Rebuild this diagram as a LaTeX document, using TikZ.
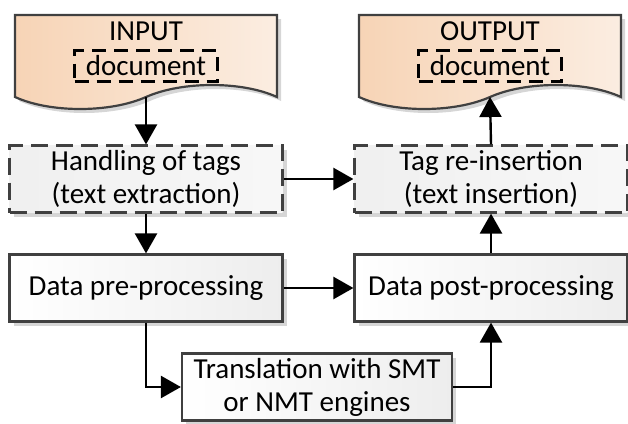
\documentclass[tikz,border=0pt]{standalone}
\usepackage{fontspec}
\setmainfont{Carlito}
\usetikzlibrary{arrows.meta,calc}
\definecolor{bordc}{HTML}{404040}
\definecolor{peachL}{HTML}{F7D4B6}
\definecolor{peachR}{HTML}{FBEDE1}
\tikzset{
  conn/.style={line width=2.4pt,-{Triangle[length=20pt,width=22pt]}},
  boxbase/.style={draw=bordc,line width=2.2pt,minimum width=273pt,minimum height=67pt,
     align=center,font=\fontsize{29}{33}\selectfont,inner sep=0pt},
  solidbox/.style={boxbase,left color=white,right color=black!7},
  dashbox/.style={boxbase,dash pattern=on 17pt off 8pt,left color=black!6,right color=black!3},
  shadowbox/.style={fill=black!16,draw=none,minimum width=273pt,minimum height=67pt,inner sep=0pt},
  docdash/.style={draw=black,line width=2.2pt,dash pattern=on 14pt off 8pt,inner sep=0pt,
     minimum width=143pt,minimum height=31pt,font=\fontsize{29}{33}\selectfont},
  doctitle/.style={font=\fontsize{29}{33}\selectfont,inner sep=0pt},
}
\begin{document}
\begin{tikzpicture}[x=1pt,y=-1pt]
\useasboundingbox (0,0) rectangle (628,423);
% ---------- documents
\foreach \ox in {0,344}{
  \fill[black!16,shift={(\ox+4,4)}] (15,15) -- (277,15) -- (277,97)
     .. controls (242,81) and (182,81) .. (146,97)
     .. controls (110,113) and (50,113) .. (15,97) -- cycle;
  \shade[left color=peachL,right color=peachR,draw=bordc,line width=2.2pt,shift={(\ox,0)}]
     (15,15) -- (277,15) -- (277,97)
     .. controls (242,81) and (182,81) .. (146,97)
     .. controls (110,113) and (50,113) .. (15,97) -- cycle;
}
\node[doctitle] (intitle) at (146,31) {INPUT};
\node[docdash] (indoc) at (146,66) {document};
\node[doctitle] (outtitle) at (490,31) {OUTPUT};
\node[docdash] (outdoc) at (490,66) {document};
\coordinate (inbot) at (146,97);
\coordinate (outbot) at (490,97);
% ---------- shadows
\node[shadowbox] at (150,183) {};
\node[shadowbox] at (495,183) {};
\node[shadowbox] at (150,292) {};
\node[shadowbox] at (495,292) {};
\node[shadowbox,minimum width=270pt] at (321,391) {};
% ---------- boxes
\node[dashbox] (hand) at (146,179) {Handling of tags\\(text extraction)};
\node[dashbox] (tagre) at (491,179) {Tag re-insertion\\(text insertion)};
\node[solidbox] (pre) at (146,288) {Data pre-processing};
\node[solidbox] (post) at (491,288) {Data post-processing};
\node[solidbox,minimum width=270pt] (trans) at (317,387) {Translation with SMT\\or NMT engines};
% ---------- connectors
\draw[conn] (inbot) -- (hand.north);
\draw[conn] (hand.south) -- (pre.north);
\draw[conn] (hand.east) -- (tagre.west);
\draw[conn] (pre.east) -- (post.west);
\draw[conn] (pre.south) |- (trans.west);
\draw[conn] (trans.east) -| (post.south);
\draw[conn] (post.north) -- (tagre.south);
\draw[conn] (tagre.north) -- (outbot);
\end{tikzpicture}
\end{document}
